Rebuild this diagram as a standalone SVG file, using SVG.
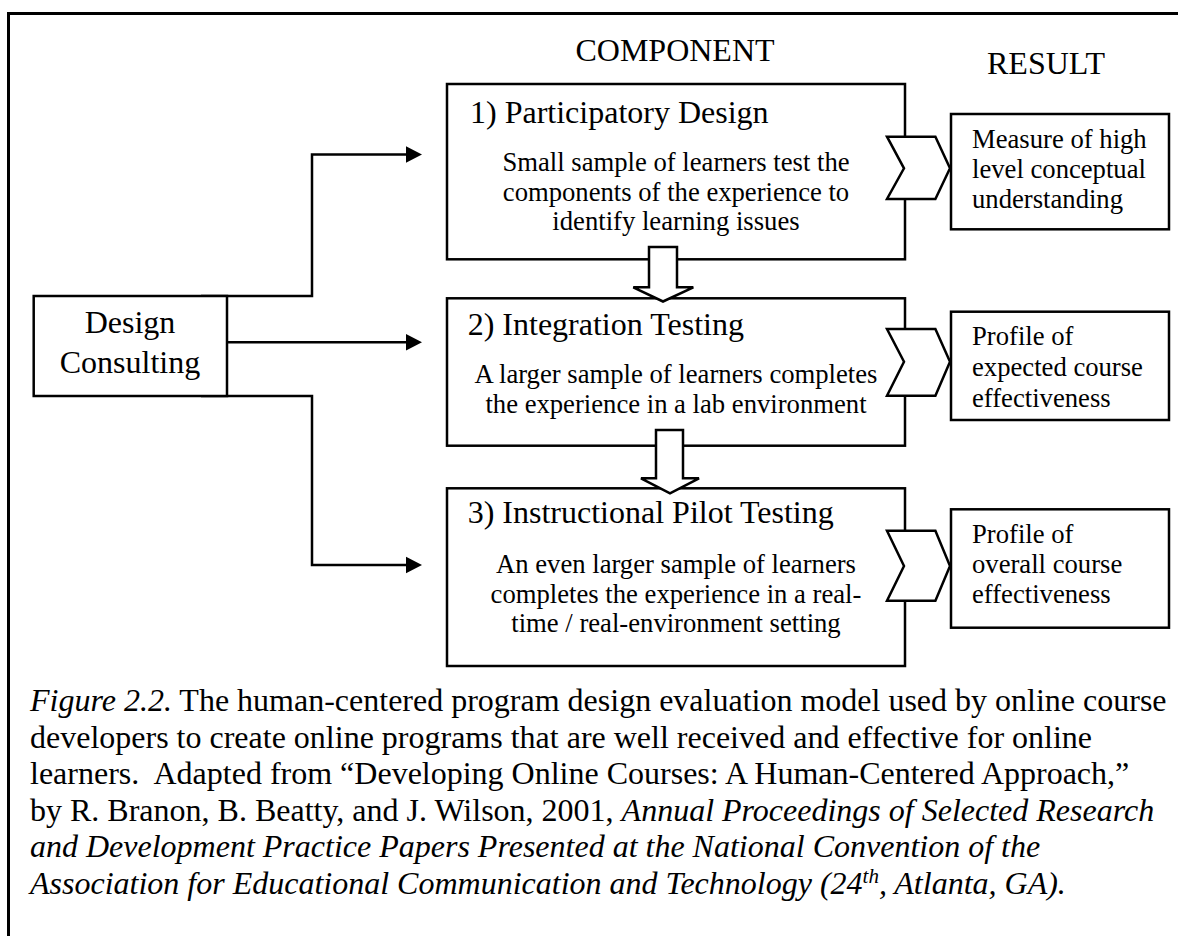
<svg xmlns="http://www.w3.org/2000/svg" width="1178" height="936" viewBox="0 0 1178 936">
  <defs>
    <style>
      text { font-family: "Liberation Serif", "Times New Roman", serif; fill: #000; }
      .hdr { font-size: 32px; }
      .ttl { font-size: 32px; }
      .body { font-size: 26.67px; text-anchor: middle; }
      .res { font-size: 26.67px; }
      .cap { font-size: 32px; white-space: pre; }
      .it { font-style: italic; }
      .box { fill: #fff; stroke: #000; stroke-width: 2.5; }
      .blk { fill: #fff; stroke: #000; stroke-width: 2.5; stroke-linejoin: miter; }
      .wire { fill: none; stroke: #000; stroke-width: 2.5; }
      .head { fill: #000; stroke: none; }
    </style>
  </defs>

  <rect width="1178" height="936" fill="#fff"/>

  <!-- frame: only the left and top edges fall inside the page -->
  <path d="M8.5,936 V13.5 H1178" fill="none" stroke="#000" stroke-width="3"/>

  <!-- column headings -->
  <text class="hdr" x="675" y="61" text-anchor="middle">COMPONENT</text>
  <text class="hdr" x="1046" y="74" text-anchor="middle">RESULT</text>

  <!-- connectors from Design Consulting -->
  <g id="connectors">
    <path class="wire" d="M201,296 H312 V154.5 H407"/>
    <polygon class="head" points="406,146.2 422,154.5 406,162.8"/>
    <path class="wire" d="M227,342.3 H407"/>
    <polygon class="head" points="406,334 422,342.3 406,350.6"/>
    <path class="wire" d="M201,396 H312 V565 H407"/>
    <polygon class="head" points="406,556.7 422,565 406,573.3"/>
  </g>

  <g id="design-consulting">
    <rect class="box" x="33.7" y="296" width="193.3" height="100"/>
    <text class="ttl" x="130" y="333.3" text-anchor="middle">Design</text>
    <text class="ttl" x="130" y="373.3" text-anchor="middle">Consulting</text>
  </g>

  <g id="participatory-design">
    <rect class="box" x="447" y="84" width="458" height="175.3"/>
    <text class="ttl" x="470" y="123.3">1) Participatory Design</text>
    <text class="body" x="676" y="171">Small sample of learners test the</text>
    <text class="body" x="676" y="200.5">components of the experience to</text>
    <text class="body" x="676" y="230">identify learning issues</text>
  </g>

  <g id="integration-testing">
    <rect class="box" x="447" y="298.3" width="458" height="147.4"/>
    <text class="ttl" x="467.7" y="335">2) Integration Testing</text>
    <text class="body" x="676" y="382.5">A larger sample of learners completes</text>
    <text class="body" x="676" y="412.5">the experience in a lab environment</text>
  </g>

  <g id="instructional-pilot-testing">
    <rect class="box" x="447" y="488.3" width="458" height="177.7"/>
    <text class="ttl" x="467.7" y="523.3">3) Instructional Pilot Testing</text>
    <text class="body" x="676" y="573.3">An even larger sample of learners</text>
    <text class="body" x="676" y="602.7">completes the experience in a real-</text>
    <text class="body" x="676" y="632">time / real-environment setting</text>
  </g>

  <!-- block arrows between the component stages -->
  <g id="step-arrow-1">
    <polygon class="blk" points="649,247 677,247 677,287.3 693.3,287.3 663,301.5 633.3,287.3 649,287.3"/>
  </g>
  <g id="step-arrow-2">
    <polygon class="blk" points="656,430 683,430 683,478.3 699,478.3 670,493.3 641,478.3 656,478.3"/>
  </g>

  <!-- chevrons leading into the results -->
  <g id="chevron-1">
    <polygon class="blk" points="887,136.7 935.4,136.7 950,168.3 935.4,199 887,199 904,168.3"/>
  </g>
  <g id="chevron-2">
    <polygon class="blk" points="887,329 935.4,329 950,361.7 935.4,395.7 887,395.7 904,361.7"/>
  </g>
  <g id="chevron-3">
    <polygon class="blk" points="887,530.7 935.4,530.7 950,566 935.4,600.7 887,600.7 904,566"/>
  </g>

  <g id="result-1">
    <rect class="box" x="951" y="114" width="218" height="115.3"/>
    <text class="res" x="972" y="148.3">Measure of high</text>
    <text class="res" x="972" y="178.3">level conceptual</text>
    <text class="res" x="972" y="207.8">understanding</text>
  </g>

  <g id="result-2">
    <rect class="box" x="951" y="311.7" width="218" height="108.3"/>
    <text class="res" x="972" y="345">Profile of</text>
    <text class="res" x="972" y="376">expected course</text>
    <text class="res" x="972" y="406.5">effectiveness</text>
  </g>

  <g id="result-3">
    <rect class="box" x="951" y="509.3" width="218" height="118.4"/>
    <text class="res" x="972" y="543.3">Profile of</text>
    <text class="res" x="972" y="573.3">overall course</text>
    <text class="res" x="972" y="603.3">effectiveness</text>
  </g>

  <!-- caption -->
  <g id="caption">
    <text class="cap" x="30" y="711"><tspan class="it">Figure 2.2.</tspan> The human-centered program design evaluation model used by online course</text>
    <text class="cap" x="30" y="747.5">developers to create online programs that are well received and effective for online</text>
    <text class="cap" x="30" y="784">learners.  Adapted from “Developing Online Courses: A Human-Centered Approach,”</text>
    <text class="cap" x="30" y="820.5">by R. Branon, B. Beatty, and J. Wilson, 2001, <tspan class="it">Annual Proceedings of Selected Research</tspan></text>
    <text class="cap it" x="30" y="857">and Development Practice Papers Presented at the National Convention of the</text>
    <text class="cap it" x="30" y="893.5">Association for Educational Communication and Technology (24<tspan font-size="21" dy="-11">th</tspan><tspan dy="11">, Atlanta, GA).</tspan></text>
  </g>
</svg>
